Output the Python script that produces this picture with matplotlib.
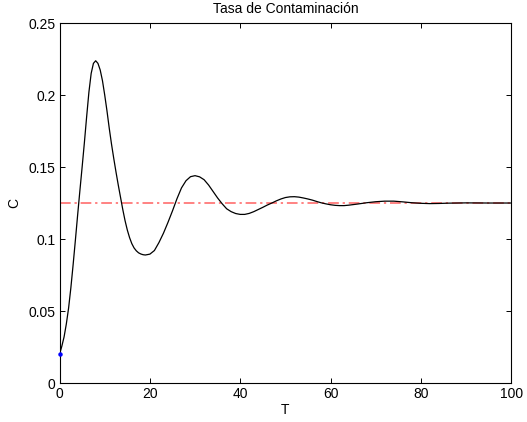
import numpy as np
import matplotlib
matplotlib.use('Agg')
from matplotlib import pyplot as plt

plt.rcParams['font.family'] = ['Liberation Sans', 'DejaVu Sans']

# values
t = [0, 0.5, 1.0, 1.5, 2.0, 2.5, 3.0, 3.5, 4.0, 4.5, 5.0, 5.5, 6.0, 6.5, 7.0, 7.5, 8.0,
     8.5, 9.0, 9.5, 10.0, 10.5, 11.0, 11.5, 12.0, 12.5, 13.0, 13.5, 14.0, 14.5, 15.0, 15.5,
     16, 16.5, 17, 17.5, 18, 18.5, 19, 20, 21, 22, 23, 24, 25, 26, 27, 28, 29, 30, 31, 32,
     33, 34, 35, 36,
     37, 38, 39, 40, 41, 42, 43, 44, 45, 46, 47, 48, 49, 50, 51, 52, 53, 54, 55, 56, 57,
     58, 59, 60, 61, 62, 63, 64, 66, 68, 70, 72, 74, 76, 78, 80, 82, 84, 86, 90, 95, 100]
C = [0.020, 0.0255, 0.032, 0.041, 0.052, 0.066, 0.082, 0.099, 0.1165, 0.1335, 0.150, 0.167,
     0.185, 0.202, 0.215, 0.222, 0.2238,
     0.222, 0.2174, 0.210, 0.200, 0.189, 0.177, 0.166, 0.156, 0.1465, 0.1375, 0.129, 0.1205,
     0.1128, 0.1063, 0.1010,
     0.0968, 0.0938, 0.0918, 0.0904, 0.0896, 0.0891, 0.0889, 0.0895, 0.092, 0.0975, 0.104,
     0.1115, 0.1195, 0.128,
     0.1355, 0.1405, 0.1433, 0.144, 0.1432, 0.1412, 0.1375, 0.133, 0.1285, 0.1245,
     0.121, 0.119, 0.1177, 0.1171, 0.1171, 0.1178, 0.119, 0.1205, 0.122, 0.1236, 0.125,
     0.1265, 0.1278, 0.1288, 0.1293, 0.1294, 0.1291, 0.1285, 0.1278, 0.127, 0.126,
     0.1251, 0.1244, 0.1238, 0.1234, 0.1232, 0.1232, 0.1235, 0.1243, 0.1252, 0.1259,
     0.1263, 0.1263, 0.1258, 0.1252, 0.1248, 0.1246, 0.1247, 0.1249, 0.1251, 0.1250, 0.1250]
equilibrio = 0.125
t0 = 0
c0 = 0.02

xticks = [0, 20, 40, 60, 80, 100]
yticks = [0, 0.05, 0.1, 0.15, 0.2, 0.25]
yticklabels = ['0', '0.05', '0.1', '0.15', '0.2', '0.25']

fig = plt.figure(figsize=(5.27, 4.22), dpi=100)
ax = fig.add_axes([0.113, 0.0924, 0.857, 0.853])

ax.plot([0, 100], [equilibrio, equilibrio], color='#ff6060', lw=1.1,
        linestyle=(0, (7, 2.5, 1.5, 2.5)))
ax.plot(t, C, color='black', lw=0.9)
ax.plot([t0], [c0], 'o', color='blue', ms=2.2, clip_on=False, zorder=5)

ax.set_xlim(0, 100)
ax.set_ylim(0, 0.25)
ax.set_xticks(xticks)
ax.set_yticks(yticks)
ax.set_yticklabels(yticklabels)
ax.tick_params(direction='in', length=3.5, width=0.7, top=True, right=True,
               labelsize=10, pad=3)
for s in ax.spines.values():
    s.set_linewidth(0.8)

ax.set_title('Tasa de Contaminación', fontsize=10, pad=7.5)
ax.set_xlabel('T', fontsize=10, labelpad=1)
ax.set_ylabel('C', fontsize=10, labelpad=5)

fig.savefig('out.png', dpi=100)
